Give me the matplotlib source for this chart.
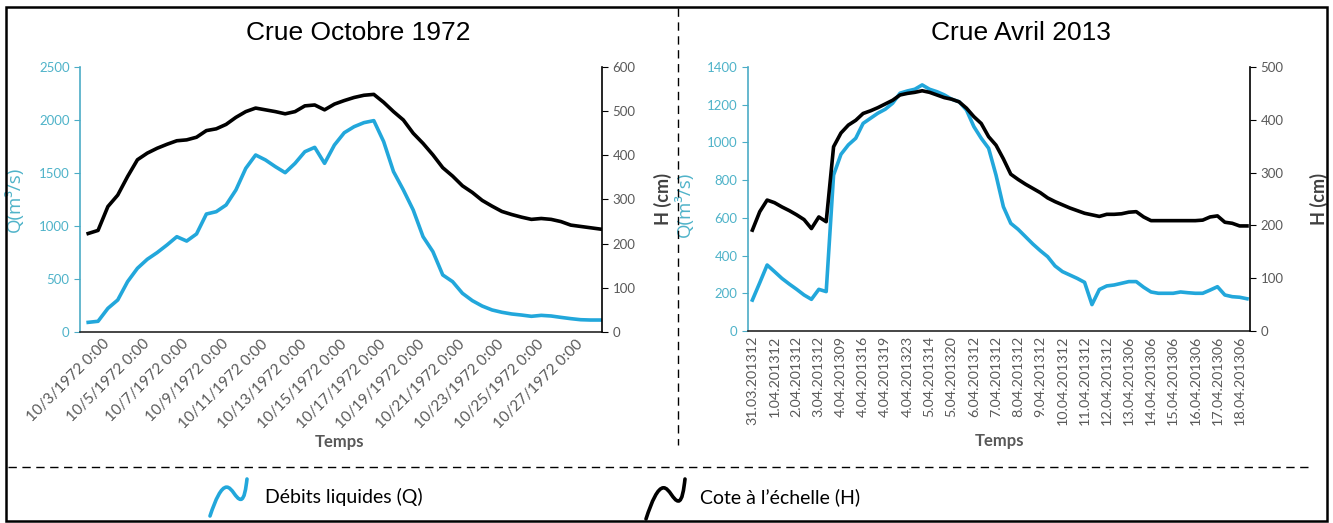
"""Crue Octobre 1972 / Crue Avril 2013 : débits et cotes."""

import matplotlib

matplotlib.use("Agg")
import matplotlib.pyplot as plt
import numpy as np
import pandas as pd
from matplotlib.lines import Line2D
from matplotlib.patches import PathPatch, Rectangle
from matplotlib.path import Path

Q_COLOR = "#22a7db"
Q_TEXT = "#4fb3c9"
H_COLOR = "#000000"
GRAY = "#595959"
TICK_FONT = ["Lato", "DejaVu Sans"]
LABEL_FONT = ["Open Sans", "DejaVu Sans"]
TITLE_FONT = ["Liberation Sans Narrow", "Liberation Sans", "DejaVu Sans"]

# --- Crue Octobre 1972 (mesures toutes les 12 h) ---
oct_start = "1972-10-02 06:00"
oct_q = [91, 101, 223, 302, 475, 601, 686, 749, 821, 899, 858, 925, 1113, 1135,
         1198, 1340, 1544, 1670, 1623, 1560, 1503, 1591, 1701, 1742, 1591, 1764,
         1880, 1937, 1975, 1994, 1796, 1513, 1340, 1151, 899, 758, 538, 475, 365,
         296, 245, 208, 186, 170, 160, 148, 157, 151, 138, 126, 116, 113, 113]
oct_h = [223, 230, 284, 310, 352, 390, 405, 416, 425, 433, 435, 441, 456, 460,
         470, 486, 499, 507, 503, 499, 494, 499, 512, 514, 503, 516, 524, 531,
         536, 538, 520, 499, 480, 450, 427, 401, 372, 353, 331, 316, 298, 285,
         273, 266, 260, 255, 257, 255, 250, 242, 239, 236, 233]
oct_ticks = pd.date_range("1972-10-03", "1972-10-27", freq="2D")

# --- Crue Avril 2013 (pas irrégulier, axe par catégories) ---
avr_q = [164, 256, 350, 315, 279, 249, 221, 191, 168, 221, 209, 827, 937, 987,
         1022, 1101, 1128, 1155, 1176, 1208, 1261, 1273, 1282, 1305, 1282, 1269,
         1252, 1229, 1216, 1172, 1084, 1022, 969, 827, 659, 571, 539, 500, 461,
         426, 394, 345, 315, 297, 279, 258, 140, 220, 239, 244, 253, 262, 262,
         232, 207, 200, 200, 200, 207, 203, 200, 200, 217, 235, 191, 182, 179, 171]
avr_h = [191, 226, 248, 243, 235, 228, 220, 211, 194, 216, 207, 349, 375, 390,
         399, 412, 417, 423, 430, 437, 447, 450, 452, 455, 452, 447, 442, 439,
         434, 422, 406, 393, 368, 352, 326, 297, 287, 278, 270, 262, 252, 245,
         239, 233, 228, 223, 220, 217, 221, 221, 222, 225, 226, 216, 209, 209,
         209, 209, 209, 209, 209, 210, 216, 218, 206, 204, 199, 199]
avr_labels = ["31.03.201312", "1.04.201312", "2.04.201312", "3.04.201312",
              "4.04.201309", "4.04.201316", "4.04.201319", "4.04.201323",
              "5.04.201314", "5.04.201320", "6.04.201312", "7.04.201312",
              "8.04.201312", "9.04.201312", "10.04.201312", "11.04.201312",
              "12.04.201312", "13.04.201306", "14.04.201306", "15.04.201306",
              "16.04.201306", "17.04.201306", "18.04.201306"]
avr_label_step = 3


def style_axes(ax, ax2):
    for side in ("top", "right"):
        ax.spines[side].set_visible(False)
    for side in ("top", "left", "bottom"):
        ax2.spines[side].set_visible(False)
    ax.spines["left"].set_color("#4bacc6")
    ax.spines["left"].set_linewidth(1.2)
    ax.spines["bottom"].set_color("#262626")
    ax.spines["bottom"].set_linewidth(1.2)
    ax2.spines["right"].set_color("#000000")
    ax2.spines["right"].set_linewidth(1.2)
    ax.tick_params(axis="y", colors="#4bacc6", labelcolor=Q_TEXT, length=4,
                   labelsize=9.5)
    ax2.tick_params(axis="y", colors="#000000", labelcolor=GRAY, length=4,
                    labelsize=9.5)
    ax.tick_params(axis="x", length=0, labelcolor=GRAY)
    for lab in ax.get_yticklabels() + ax2.get_yticklabels():
        lab.set_family(TICK_FONT)
    ax.set_ylabel("Q(m³/s)", color=Q_TEXT, fontsize=13.5, family=LABEL_FONT)
    ax2.set_ylabel("H (cm)", color="#404040", fontsize=13, fontweight="bold",
                   family=TICK_FONT)
    ax.set_xlabel("Temps", color=GRAY, fontsize=12, fontweight="bold",
                  family=TICK_FONT)


fig = plt.figure(figsize=(13.33, 5.23), dpi=100)

# ---------- left chart ----------
ax_l = fig.add_axes([0.060, 0.3652, 0.3916, 0.5067])
ax_l2 = ax_l.twinx()
oct_times = pd.date_range(oct_start, periods=len(oct_q), freq="12h")
ax_l.plot(oct_times, oct_q, color=Q_COLOR, lw=2.6, solid_joinstyle="round")
ax_l2.plot(oct_times, oct_h, color=H_COLOR, lw=2.6, solid_joinstyle="round")
ax_l.set_ylim(0, 2500)
ax_l.set_yticks(np.arange(0, 2501, 500))
ax_l2.set_ylim(0, 600)
ax_l2.set_yticks(np.arange(0, 601, 100))
ax_l.set_xlim(oct_times[0] - pd.Timedelta(hours=10),
              oct_times[-1] + pd.Timedelta(hours=2))
ax_l.set_xticks(oct_ticks)
ax_l.set_xticklabels([f"{t.month}/{t.day}/{t.year} 0:00" for t in oct_ticks],
                     rotation=45, ha="right", rotation_mode="anchor",
                     fontsize=11, family=TICK_FONT)
style_axes(ax_l, ax_l2)
ax_l.yaxis.set_label_coords(-0.108, 0.5)
ax_l2.yaxis.set_label_coords(1.10, 0.5)
ax_l.xaxis.set_label_coords(0.498, -0.385)

# ---------- right chart ----------
ax_r = fig.add_axes([0.5611, 0.3671, 0.3766, 0.5048])
ax_r2 = ax_r.twinx()
avr_x = np.arange(len(avr_q))
ax_r.plot(avr_x, avr_q, color=Q_COLOR, lw=2.6, solid_joinstyle="round")
ax_r2.plot(avr_x, avr_h, color=H_COLOR, lw=2.6, solid_joinstyle="round")
ax_r.set_ylim(0, 1400)
ax_r.set_yticks(np.arange(0, 1401, 200))
ax_r2.set_ylim(0, 500)
ax_r2.set_yticks(np.arange(0, 501, 100))
ax_r.set_xlim(-0.6, len(avr_q) - 0.6)
ax_r.set_xticks(avr_x[::avr_label_step])
ax_r.set_xticklabels(avr_labels, rotation=90, fontsize=10.3, family=TICK_FONT)
style_axes(ax_r, ax_r2)
ax_r.yaxis.set_label_coords(-0.108, 0.48)
ax_r2.yaxis.set_label_coords(1.12, 0.5)
ax_r.xaxis.set_label_coords(0.502, -0.385)

# ---------- titles ----------
fig.text(358 / 1333, 1 - 33 / 523, "Crue Octobre 1972", ha="center",
         va="center", fontsize=19, family=TITLE_FONT)
fig.text(1021 / 1333, 1 - 33 / 523, "Crue Avril 2013", ha="center",
         va="center", fontsize=19, family=TITLE_FONT)

# ---------- frame and separators ----------
fig.add_artist(Rectangle((6 / 1333, 2 / 523), 1321 / 1333, 514 / 523,
                         transform=fig.transFigure, fill=False,
                         edgecolor="black", lw=1.8))
fig.add_artist(Line2D([678 / 1333, 678 / 1333], [1 - 8 / 523, 1 - 445 / 523],
                      transform=fig.transFigure, color="black", lw=1.0,
                      ls=(0, (6, 4))))
fig.add_artist(Line2D([8 / 1333, 1313 / 1333], [1 - 467 / 523, 1 - 467 / 523],
                      transform=fig.transFigure, color="black", lw=1.0,
                      ls=(0, (6, 4))))

# ---------- legend (hand-drawn squiggles) ----------
squiggle_pts = [(0.0, 0.0), (0.15, 0.45), (0.3, 0.78), (0.45, 0.78),
                (0.6, 0.78), (0.7, 0.45), (0.83, 0.45),
                (0.93, 0.45), (0.97, 0.75), (1.0, 1.0)]
squiggle_codes = [Path.MOVETO] + [Path.CURVE4] * 9


def draw_squiggle(x0, y0, w, h, color):
    verts = [((x0 + px * w) / 1333, 1 - (y0 - py * h) / 523)
             for px, py in squiggle_pts]
    fig.add_artist(PathPatch(Path(verts, squiggle_codes),
                             transform=fig.transFigure, fill=False,
                             edgecolor=color, lw=2.6, capstyle="round"))


draw_squiggle(210, 516, 37, 37, Q_COLOR)
draw_squiggle(646, 519, 39, 40, H_COLOR)
fig.text(265 / 1333, 1 - 497 / 523, "Débits liquides (Q)", ha="left",
         va="center", fontsize=14, family=TICK_FONT)
fig.text(700 / 1333, 1 - 497 / 523, "Cote à l’échelle (H)", ha="left",
         va="center", fontsize=14, family=TICK_FONT)

fig.savefig("out.png", dpi=100)
plt.close(fig)
